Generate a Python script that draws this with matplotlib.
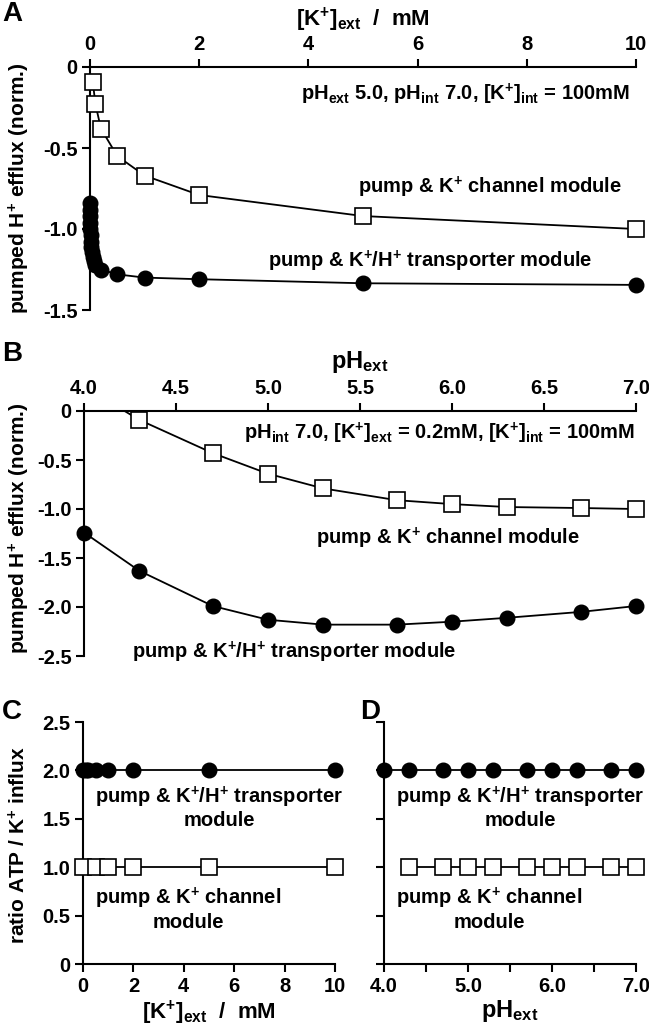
import matplotlib
matplotlib.use("Agg")
import matplotlib.pyplot as plt

plt.rcParams['font.family'] = ['Liberation Sans', 'DejaVu Sans']
plt.rcParams['font.weight'] = 'bold'
plt.rcParams['mathtext.fontset'] = 'custom'
plt.rcParams['mathtext.rm'] = 'Liberation Sans:bold'
plt.rcParams['mathtext.bf'] = 'Liberation Sans:bold'
plt.rcParams['mathtext.it'] = 'Liberation Sans:bold'
plt.rcParams['mathtext.default'] = 'bf'
plt.rcParams['axes.unicode_minus'] = False

# ---------------- data ----------------
# Panel A: pumped H+ efflux vs [K+]ext
kA_channel = [0.05, 0.1, 0.2, 0.5, 1, 2, 5, 10]
effA_channel = [-0.09, -0.23, -0.38, -0.55, -0.67, -0.79, -0.92, -1.0]
kA_trans = [0.001, 0.002, 0.003, 0.005, 0.007, 0.01, 0.015, 0.02, 0.03,
            0.05, 0.07, 0.1, 0.2, 0.5, 1, 2, 5, 10]
effA_trans = [-0.84, -0.88, -0.92, -0.96, -1.0, -1.04, -1.08, -1.11, -1.14,
              -1.17, -1.20, -1.22, -1.25, -1.28, -1.30, -1.31, -1.335, -1.345]

# Panel B: pumped H+ efflux vs pHext
phB_channel = [4.0, 4.3, 4.7, 5.0, 5.3, 5.7, 6.0, 6.3, 6.7, 7.0]
effB_channel = [0.25, -0.09, -0.43, -0.64, -0.79, -0.91, -0.95, -0.98, -0.99, -1.0]
phB_trans = [4.0, 4.3, 4.7, 5.0, 5.3, 5.7, 6.0, 6.3, 6.7, 7.0]
effB_trans = [-1.24, -1.63, -1.99, -2.13, -2.18, -2.18, -2.15, -2.11, -2.05, -1.99]

# Panel C: ratio ATP / K+ influx vs [K+]ext
kC_trans = [0, 0.1, 0.2, 0.5, 1, 2, 5, 10]
ratioC_trans = [2, 2, 2, 2, 2, 2, 2, 2]
kC_channel = [0, 0.5, 1, 2, 5, 10]
ratioC_channel = [1, 1, 1, 1, 1, 1]

# Panel D: ratio ATP / K+ influx vs pHext
phD_trans = [4.0, 4.3, 4.7, 5.0, 5.3, 5.7, 6.0, 6.3, 6.7, 7.0]
ratioD_trans = [2, 2, 2, 2, 2, 2, 2, 2, 2, 2]
phD_channel = [4.3, 4.7, 5.0, 5.3, 5.7, 6.0, 6.3, 6.7, 7.0]
ratioD_channel = [1, 1, 1, 1, 1, 1, 1, 1, 1]

xticksA = [0, 2, 4, 6, 8, 10]
yticksA = [0, -0.5, -1.0, -1.5]
yticklabelsA = ['0', '-0.5', '-1.0', '-1.5']
xticksB = [4.0, 4.5, 5.0, 5.5, 6.0, 6.5, 7.0]
xticklabelsB = ['4.0', '4.5', '5.0', '5.5', '6.0', '6.5', '7.0']
yticksB = [0, -0.5, -1.0, -1.5, -2.0, -2.5]
yticklabelsB = ['0', '-0.5', '-1.0', '-1.5', '-2.0', '-2.5']
xticksC = [0, 2, 4, 6, 8, 10]
yticksC = [0, 0.5, 1.0, 1.5, 2.0, 2.5]
yticklabelsC = ['0', '0.5', '1.0', '1.5', '2.0', '2.5']
xticksD = [4.0, 4.5, 5.0, 5.5, 6.0, 6.5, 7.0]
xticklabelsD = ['4.0', '', '5.0', '', '6.0', '', '7.0']

# ---------------- style ----------------
W, H = 649, 1032
fig = plt.figure(figsize=(W / 100, H / 100), dpi=100)

def rect(l, r, t, b):
    return [l / W, 1 - b / H, (r - l) / W, (b - t) / H]

TICK_FS = 14.5
ANN_FS = 14.5
LAB_FS = 16
YLAB_FS = 15
LW = 1.3
sq = dict(marker='s', ms=11.5, mfc='white', mec='black', mew=1.2, color='black', lw=LW)
ci = dict(marker='o', ms=10.5, mfc='black', mec='black', color='black', lw=LW)

def style(ax, top=False):
    ax.spines['right'].set_visible(False)
    if top:
        ax.spines['bottom'].set_visible(False)
        ax.xaxis.tick_top()
        ax.xaxis.set_label_position('top')
    else:
        ax.spines['top'].set_visible(False)
    for s in ax.spines.values():
        s.set_linewidth(1.5)
    ax.tick_params(direction='out', width=1.5, length=6, labelsize=TICK_FS, pad=3)
    for lab in ax.get_xticklabels() + ax.get_yticklabels():
        lab.set_fontweight('bold')

# ---------------- Panel A ----------------
axA = fig.add_axes(rect(90, 636, 67, 310))
axA.plot(kA_channel, effA_channel, **sq, zorder=3, clip_on=False)
axA.plot(kA_trans, effA_trans, **ci, zorder=3, clip_on=False)
axA.set_xlim(0, 10)
axA.set_ylim(-1.5, 0)
axA.set_xticks(xticksA)
axA.set_xticklabels([str(t) for t in xticksA])
axA.set_yticks(yticksA)
axA.set_yticklabels(yticklabelsA)
style(axA, top=True)
axA.set_xlabel(r'[K$^{+}$]$_{ext}$  /  mM', fontsize=LAB_FS, fontweight='bold', labelpad=7)
axA.text(9.88, -0.17, r'pH$_{ext}$ 5.0, pH$_{int}$ 7.0, [K$^{+}$]$_{int}$ = 100mM',
         ha='right', va='center', fontsize=ANN_FS, fontweight='bold')
axA.text(9.75, -0.74, r'pump & K$^{+}$ channel module',
         ha='right', va='center', fontsize=ANN_FS, fontweight='bold')
axA.text(9.2, -1.2, r'pump & K$^{+}$/H$^{+}$ transporter module',
         ha='right', va='center', fontsize=ANN_FS, fontweight='bold')

# ---------------- Panel B ----------------
axB = fig.add_axes(rect(84, 636, 411, 656))
axB.plot(phB_channel, effB_channel, color='black', lw=LW, zorder=2)
axB.plot(phB_channel[1:], effB_channel[1:], ls='none', marker='s', ms=11.5,
         mfc='white', mec='black', mew=1.2, zorder=3, clip_on=False)
axB.plot(phB_trans, effB_trans, **ci, zorder=3, clip_on=False)
axB.set_xlim(4.0, 7.0)
axB.set_ylim(-2.5, 0)
axB.set_xticks(xticksB)
axB.set_xticklabels(xticklabelsB)
axB.set_yticks(yticksB)
axB.set_yticklabels(yticklabelsB)
style(axB, top=True)
axB.set_xlabel(r'pH$_{ext}$', fontsize=LAB_FS + 1, fontweight='bold', labelpad=8)
axB.text(6.995, -0.23, r'pH$_{int}$ 7.0, [K$^{+}$]$_{ext}$ = 0.2mM, [K$^{+}$]$_{int}$ = 100mM',
         ha='right', va='center', fontsize=ANN_FS, fontweight='bold')
axB.text(5.98, -1.3, r'pump & K$^{+}$ channel module',
         ha='center', va='center', fontsize=ANN_FS, fontweight='bold')
axB.text(4.26, -2.46, r'pump & K$^{+}$/H$^{+}$ transporter module',
         ha='left', va='center', fontsize=ANN_FS, fontweight='bold')

# ---------------- Panel C ----------------
axC = fig.add_axes(rect(83, 335, 722, 964))
axC.plot(kC_trans, ratioC_trans, **ci, zorder=3, clip_on=False)
axC.plot(kC_channel, ratioC_channel, **sq, zorder=3, clip_on=False)
axC.set_xlim(0, 10)
axC.set_ylim(0, 2.5)
axC.set_xticks(xticksC)
axC.set_xticklabels([str(t) for t in xticksC])
axC.set_yticks(yticksC)
axC.set_yticklabels(yticklabelsC)
style(axC)
axC.set_xlabel(r'[K$^{+}$]$_{ext}$  /  mM', fontsize=LAB_FS, fontweight='bold', labelpad=2)
axC.text(5.4, 1.62, 'pump & K$^{+}$/H$^{+}$ transporter\nmodule',
         ha='center', va='center', fontsize=ANN_FS, fontweight='bold', linespacing=1.1)
axC.text(4.17, 0.57, 'pump & K$^{+}$ channel\nmodule',
         ha='center', va='center', fontsize=ANN_FS, fontweight='bold', linespacing=1.1)

# ---------------- Panel D ----------------
axD = fig.add_axes(rect(384, 636, 722, 964))
axD.plot(phD_trans, ratioD_trans, **ci, zorder=3, clip_on=False)
axD.plot(phD_channel, ratioD_channel, **sq, zorder=3, clip_on=False)
axD.set_xlim(4.0, 7.0)
axD.set_ylim(0, 2.5)
axD.set_xticks(xticksD)
axD.set_xticklabels(xticklabelsD)
axD.set_yticks(yticksC)
axD.set_yticklabels([])
style(axD)
axD.set_xlabel(r'pH$_{ext}$', fontsize=LAB_FS + 1, fontweight='bold', labelpad=2)
axD.text(5.62, 1.62, 'pump & K$^{+}$/H$^{+}$ transporter\nmodule',
         ha='center', va='center', fontsize=ANN_FS, fontweight='bold', linespacing=1.1)
axD.text(5.25, 0.57, 'pump & K$^{+}$ channel\nmodule',
         ha='center', va='center', fontsize=ANN_FS, fontweight='bold', linespacing=1.1)

# y labels
fig.text(19 / W, 1 - 188 / H, r'pumped H$^{+}$ efflux (norm.)', rotation=90,
         ha='center', va='center', fontsize=YLAB_FS, fontweight='bold')
fig.text(19 / W, 1 - 528 / H, r'pumped H$^{+}$ efflux (norm.)', rotation=90,
         ha='center', va='center', fontsize=YLAB_FS, fontweight='bold')
fig.text(19 / W, 1 - 845 / H, r'ratio ATP / K$^{+}$ influx', rotation=90,
         ha='center', va='center', fontsize=YLAB_FS, fontweight='bold')

# panel letters
for lbl, x, y in [('A', 12, 14), ('B', 12, 354), ('C', 12, 712), ('D', 370, 712)]:
    fig.text(x / W, 1 - y / H, lbl, ha='center', va='center', fontsize=20, fontweight='bold')

fig.savefig('out.png', dpi=100)
